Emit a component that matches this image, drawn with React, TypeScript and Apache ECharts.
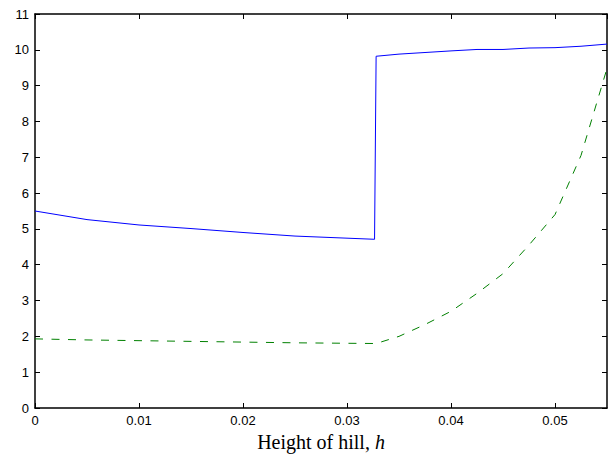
import React, { useEffect, useRef } from "react";
import * as echarts from "echarts";

const blueH = [0, 0.005, 0.01, 0.015, 0.02, 0.025, 0.03265, 0.0328, 0.035, 0.04, 0.0425, 0.045, 0.0475, 0.05, 0.0525, 0.055];
const blueVals = [5.5, 5.26, 5.11, 5.01, 4.9, 4.8, 4.71, 9.82, 9.88, 9.97, 10.01, 10.01, 10.05, 10.06, 10.1, 10.16];

const greenH = [0, 0.005, 0.01, 0.015, 0.02, 0.025, 0.0328, 0.035, 0.0375, 0.04, 0.0425, 0.045, 0.0475, 0.05, 0.0525, 0.055];
const greenVals = [1.93, 1.9, 1.88, 1.86, 1.84, 1.82, 1.8, 2.0, 2.33, 2.7, 3.2, 3.75, 4.55, 5.4, 7.05, 9.48];

const xTickFormatter = (v: number) => (v === 0 ? "0" : String(+v.toFixed(3)));

export default function App() {
  const ref = useRef<HTMLDivElement>(null);
  useEffect(() => {
    if (!ref.current) return;
    const chart = echarts.init(ref.current, null, { renderer: "svg" });
    const labelFont = { fontFamily: "Liberation Sans", fontSize: 13, color: "#000" };
    const frameLine = { show: true, lineStyle: { color: "#000", width: 1.5 } };
    const innerTick = { show: true, inside: true, length: 5, lineStyle: { color: "#000", width: 1 } };
    chart.setOption({
      animation: false,
      backgroundColor: "#fff",
      grid: { left: 35, right: 4, top: 14, bottom: 46, containLabel: false, outerBoundsMode: "none" },
      xAxis: [
        {
          type: "value",
          min: 0,
          max: 0.055,
          interval: 0.01,
          position: "bottom",
          axisLine: { ...frameLine, onZero: false },
          axisTick: innerTick,
          splitLine: { show: false },
          axisLabel: { ...labelFont, margin: 6, formatter: xTickFormatter, showMaxLabel: false },
          name: "{n|Height of hill, }{i|h}",
          nameLocation: "middle",
          nameGap: 23,
          nameTextStyle: {
            rich: {
              n: { fontFamily: "Liberation Serif", fontSize: 20, color: "#000" },
              i: { fontFamily: "Liberation Serif", fontSize: 20, fontStyle: "italic", color: "#000" },
            },
          },
        },
        {
          type: "value",
          min: 0,
          max: 0.055,
          interval: 0.01,
          position: "top",
          axisLine: { ...frameLine, onZero: false },
          axisTick: innerTick,
          splitLine: { show: false },
          axisLabel: { show: false },
        },
      ],
      yAxis: [
        {
          type: "value",
          min: 0,
          max: 11,
          interval: 1,
          position: "left",
          axisLine: { ...frameLine, onZero: false },
          axisTick: innerTick,
          splitLine: { show: false },
          axisLabel: { ...labelFont, margin: 6 },
        },
        {
          type: "value",
          min: 0,
          max: 11,
          interval: 1,
          position: "right",
          axisLine: { ...frameLine, onZero: false },
          axisTick: innerTick,
          splitLine: { show: false },
          axisLabel: { show: false },
        },
      ],
      series: [
        {
          type: "line",
          xAxisIndex: 0,
          yAxisIndex: 0,
          data: blueH.map((h, i) => [h, blueVals[i]]),
          showSymbol: false,
          symbol: "none",
          lineStyle: { color: "#0000ff", width: 1 },
          silent: true,
        },
        {
          type: "line",
          xAxisIndex: 0,
          yAxisIndex: 0,
          data: greenH.map((h, i) => [h, greenVals[i]]),
          showSymbol: false,
          symbol: "none",
          lineStyle: { color: "#008000", width: 1, type: [8, 8.5] },
          silent: true,
        },
      ],
    });
    return () => chart.dispose();
  }, []);
  return <div ref={ref} style={{ width: 611, height: 454, position: "absolute", left: 0, top: 0 }} />;
}
